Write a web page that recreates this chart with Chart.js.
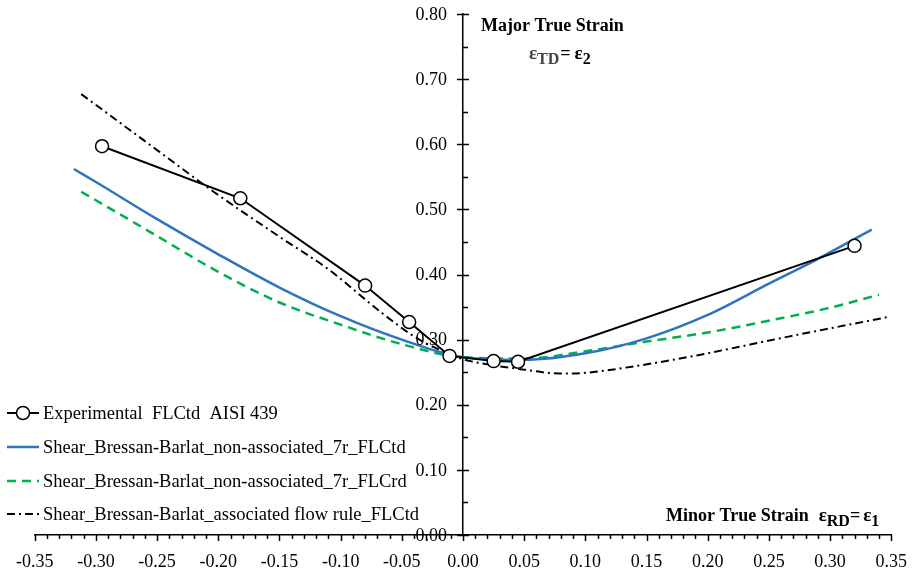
<!DOCTYPE html>
<html>
<head>
<meta charset="utf-8">
<script src="https://cdn.jsdelivr.net/npm/chart.js@4.4.1/dist/chart.umd.min.js"></script>
<style>
  html, body { margin: 0; padding: 0; background: #fff; }
  #wrap { width: 923px; height: 571px; }
</style>
</head>
<body>
<div id="wrap"><canvas id="chart" width="923" height="571"></canvas></div>
<script>
// experimental FLC points
const expX = [-0.295, -0.182, -0.080, -0.044, -0.011, 0.025, 0.045, 0.320];
const expY = [0.597, 0.517, 0.383, 0.327, 0.275, 0.267, 0.266, 0.444];

// non-associated 7r, FLCtd (blue)
const blueX = [-0.318, -0.30, -0.25, -0.20, -0.15, -0.10, -0.05, 0.00, 0.05, 0.10, 0.15, 0.20, 0.25, 0.289, 0.334];
const blueY = [0.562, 0.542, 0.485, 0.431, 0.380, 0.336, 0.300, 0.273, 0.269, 0.279, 0.302, 0.338, 0.386, 0.423, 0.469];

// non-associated 7r, FLCrd (green)
const greenX = [-0.312, -0.30, -0.25, -0.20, -0.15, -0.10, -0.05, 0.00, 0.05, 0.10, 0.15, 0.20, 0.25, 0.30, 0.340];
const greenY = [0.527, 0.514, 0.459, 0.404, 0.357, 0.323, 0.293, 0.273, 0.271, 0.282, 0.297, 0.311, 0.329, 0.349, 0.369];

// associated flow rule, FLCtd (black dash-dot)
const assocX = [-0.312, -0.25, -0.203, -0.15, -0.110, -0.067, -0.04, -0.02, 0.00, 0.02, 0.046, 0.079, 0.10, 0.133, 0.186, 0.267, 0.348];
const assocY = [0.677, 0.591, 0.526, 0.458, 0.408, 0.342, 0.305, 0.285, 0.270, 0.262, 0.255, 0.248, 0.249, 0.257, 0.274, 0.305, 0.335];

const seriesNames = [
    'Experimental  FLCtd  AISI 439',
    'Shear_Bressan-Barlat_non-associated_7r_FLCtd',
    'Shear_Bressan-Barlat_non-associated_7r_FLCrd',
    'Shear_Bressan-Barlat_associated flow rule_FLCtd'
];

const xMin = -0.35, xMax = 0.35, xStep = 0.05;
const yMin = 0, yMax = 0.8, yStep = 0.1;

const toPoints = (xs, ys) => xs.map((x, i) => ({ x: x, y: ys[i] }));

const serif = '"Liberation Serif", "Times New Roman", serif';

// minor/major tick marks, y labels, axis titles and the legend
const extrasPlugin = {
    id: 'extras',
    afterDatasetsDraw(chart) {
        const ctx = chart.ctx;
        const xs = chart.scales.x;
        const ys = chart.scales.y;
        const x0 = xs.getPixelForValue(0);
        const yb = ys.getPixelForValue(0);

        ctx.save();
        ctx.strokeStyle = '#000';
        ctx.lineWidth = 1.5;
        ctx.beginPath();
        for (let i = -35; i <= 35; i++) {
            const px = Math.round(xs.getPixelForValue(i / 100)) + 0.5;
            const len = (i % 5 === 0) ? 6 : 4;
            ctx.moveTo(px, yb);
            ctx.lineTo(px, yb + len);
        }
        for (let i = 0; i <= 16; i++) {
            const py = Math.round(ys.getPixelForValue(i * 0.05)) + 0.5;
            if (i % 2 === 0) {
                ctx.moveTo(x0 - 6, py);
                ctx.lineTo(x0 + 6, py);
            } else {
                ctx.moveTo(x0, py);
                ctx.lineTo(x0 + 5, py);
            }
        }
        ctx.stroke();

        // y tick labels, left of the axis at x = 0
        ctx.fillStyle = '#000';
        ctx.font = '18px ' + serif;
        ctx.textAlign = 'right';
        ctx.textBaseline = 'middle';
        ys.ticks.forEach((t) => {
            ctx.fillText(t.value.toFixed(2), x0 - 16, ys.getPixelForValue(t.value) + 1);
        });

        // axis titles
        ctx.textBaseline = 'alphabetic';
        ctx.textAlign = 'left';
        ctx.font = 'bold 18px ' + serif;
        ctx.fillText('Major True Strain', 481, 31);

        const drawEps = (x, y, sub, main) => {
            ctx.font = 'bold 19px ' + serif;
            ctx.fillText(main, x, y);
            let w = ctx.measureText(main).width;
            ctx.font = 'bold 16px ' + serif;
            ctx.fillText(sub, x + w, y + 5);
            return x + w + ctx.measureText(sub).width;
        };
        ctx.fillStyle = '#444';
        let cx = drawEps(529, 59, 'TD', '\u03b5');
        ctx.fillStyle = '#000';
        ctx.font = 'bold 18px ' + serif;
        ctx.fillText('=', cx + 1, 59);
        cx += ctx.measureText('=').width + 5;
        drawEps(cx, 59, '2', '\u03b5');

        ctx.font = 'bold 18px ' + serif;
        ctx.fillText('Minor True Strain', 666, 521);
        cx = 666 + ctx.measureText('Minor True Strain').width + 10;
        cx = drawEps(cx, 521, 'RD', '\u03b5');
        ctx.font = 'bold 18px ' + serif;
        ctx.fillText('=', cx, 521);
        cx += ctx.measureText('=').width + 3;
        drawEps(cx, 521, '1', '\u03b5');

        // legend
        const rowY = [413, 447, 481, 514];
        chart.data.datasets.forEach((ds, i) => {
            const y = rowY[i];
            ctx.strokeStyle = ds.borderColor;
            ctx.lineWidth = ds.borderWidth;
            ctx.setLineDash(ds.borderDash || []);
            ctx.beginPath();
            ctx.moveTo(7, y);
            ctx.lineTo(39, y);
            ctx.stroke();
            ctx.setLineDash([]);
            if (ds.pointRadius > 0) {
                ctx.beginPath();
                ctx.arc(23, y, ds.pointRadius, 0, Math.PI * 2);
                ctx.fillStyle = '#fff';
                ctx.fill();
                ctx.lineWidth = ds.pointBorderWidth;
                ctx.stroke();
            }
            ctx.fillStyle = '#000';
            ctx.font = '18.5px ' + serif;
            ctx.textBaseline = 'middle';
            ctx.fillText(seriesNames[i], 43, y + 1);
        });
        ctx.restore();
    }
};

const chart = new Chart(document.getElementById('chart'), {
    type: 'line',
    data: {
        datasets: [
            {
                label: seriesNames[0],
                data: toPoints(expX, expY),
                borderColor: '#000',
                borderWidth: 2,
                pointRadius: 6.5,
                pointBackgroundColor: '#fff',
                pointBorderColor: '#000',
                pointBorderWidth: 1.5,
                tension: 0,
                order: 0
            },
            {
                label: seriesNames[1],
                data: toPoints(blueX, blueY),
                borderColor: '#2e75c0',
                borderWidth: 2.5,
                pointRadius: 0,
                cubicInterpolationMode: 'monotone',
                order: 1
            },
            {
                label: seriesNames[2],
                data: toPoints(greenX, greenY),
                borderColor: '#00b050',
                borderWidth: 2.5,
                borderDash: [9, 6],
                pointRadius: 0,
                cubicInterpolationMode: 'monotone',
                order: 2
            },
            {
                label: seriesNames[3],
                data: toPoints(assocX, assocY),
                borderColor: '#000',
                borderWidth: 2,
                borderDash: [8, 4, 2, 4],
                pointRadius: 0,
                cubicInterpolationMode: 'monotone',
                order: 3
            }
        ]
    },
    options: {
        responsive: false,
        animation: false,
        layout: { padding: { left: 31, right: 28, top: 14, bottom: 0 } },
        plugins: {
            legend: { display: false },
            tooltip: { enabled: false }
        },
        scales: {
            x: {
                type: 'linear',
                position: 'bottom',
                min: xMin,
                max: xMax,
                grid: { display: false, drawTicks: false },
                border: { display: true, color: '#000', width: 1.5 },
                ticks: {
                    stepSize: xStep,
                    padding: 16,
                    color: '#000',
                    font: { family: serif, size: 18 },
                    maxRotation: 0,
                    autoSkip: false,
                    callback: (v) => v.toFixed(2)
                },
                afterFit: (scale) => { scale.height = 36; }
            },
            y: {
                type: 'linear',
                position: { x: 0 },
                min: yMin,
                max: yMax,
                grid: { display: false, drawTicks: false },
                border: { display: true, color: '#000', width: 1.5 },
                ticks: {
                    stepSize: yStep,
                    display: false
                }
            }
        }
    },
    plugins: [extrasPlugin]
});
</script>
</body>
</html>
